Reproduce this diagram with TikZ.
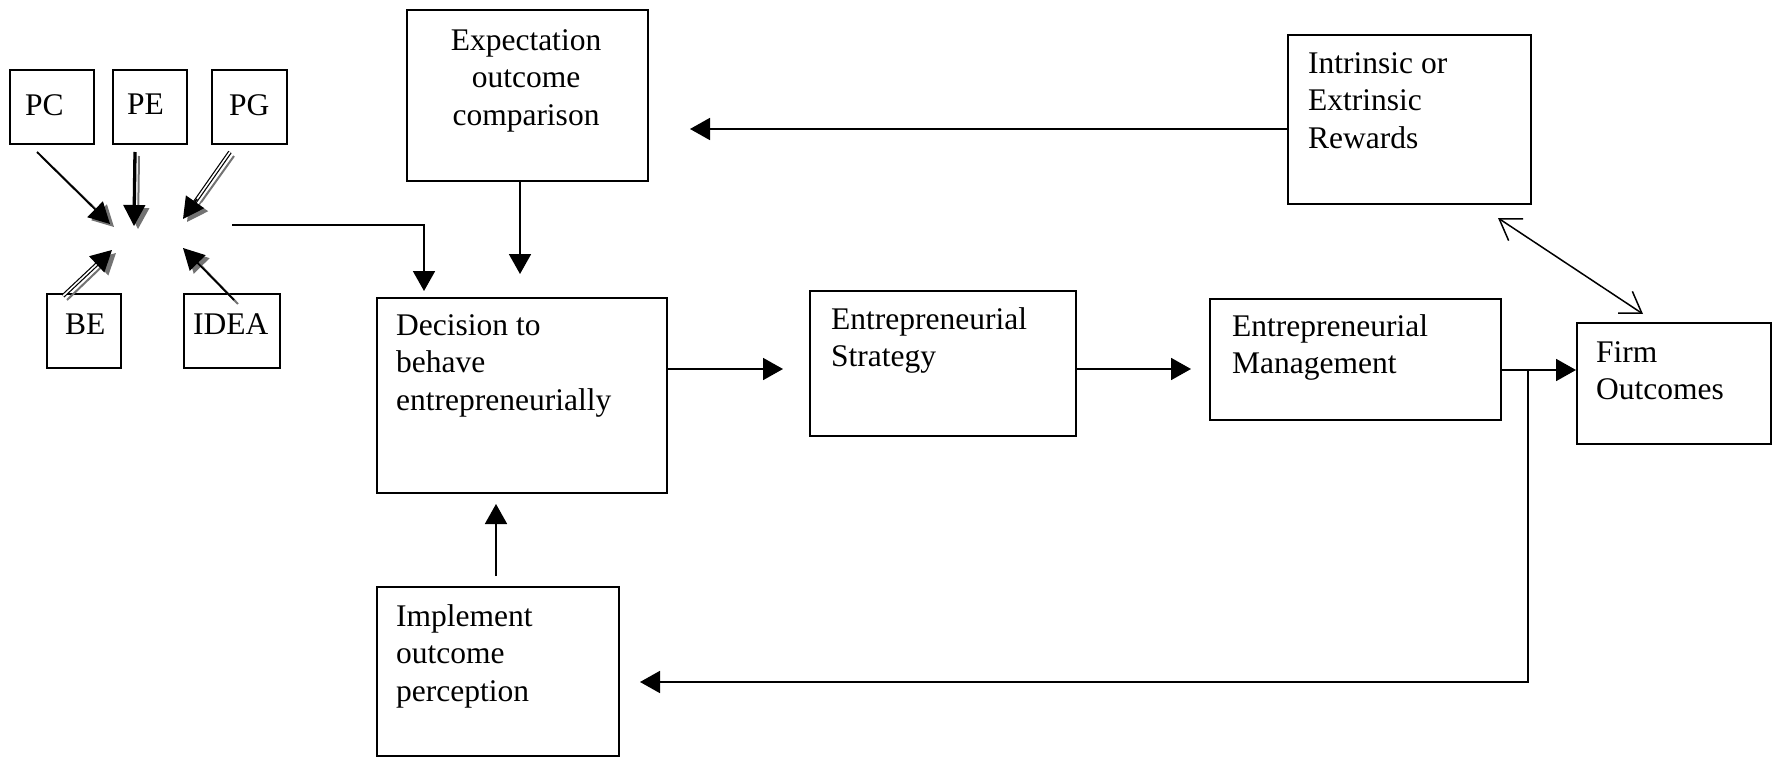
\documentclass[tikz,border=0pt]{standalone}
\usepackage{fontspec}
\setmainfont{Liberation Serif}
\usetikzlibrary{arrows.meta,calc}
\begin{document}
\begin{tikzpicture}[x=1pt,y=-1pt,
  box/.style={draw, line width=1.8pt, inner sep=0pt, anchor=north west},
  lbl/.style={inner sep=0pt, anchor=north west, align=left,
              font=\fontsize{31.5}{37.5}\selectfont},
  link/.style={line width=1.8pt, -{Triangle[length=20pt,width=22pt]}},
  twoway/.style={line width=1.5pt,
                 {Straight Barb[length=20pt,width=26pt,line width=1.5pt]}-{Straight Barb[length=20pt,width=26pt,line width=1.5pt]}},
  cast/.style={draw=black!55, line width=2pt},
  casttip/.style={draw=black!55, fill=black!55, line width=1.5pt,
                  -{Triangle[length=21pt,width=22pt]}},
  thin/.style={line width=1.8pt},
  thick/.style={line width=3.3pt},
  twin/.style={line width=1.2pt, double=white, double distance=1.6pt},
  tip/.style={line width=1.5pt, -{Triangle[length=21pt,width=22pt]}}
]
\useasboundingbox (0,0) rectangle (1775,757);

% ---- input boxes ----
\node[box, minimum width=84pt, minimum height=74pt] (pc)   at (9,69)   {};
\node[box, minimum width=74pt, minimum height=74pt] (pe)   at (112,69) {};
\node[box, minimum width=75pt, minimum height=74pt] (pg)   at (211,69) {};
\node[box, minimum width=74pt, minimum height=74pt] (be)   at (46,293) {};
\node[box, minimum width=96pt, minimum height=74pt] (idea) at (183,293) {};
\node[lbl] (pct)   at (25,94)   {PC};
\node[lbl] (pet)   at (127,94)  {PE};
\node[lbl] (pgt)   at (229,94)  {PG};
\node[lbl] (bet)   at (65,314)  {BE};
\node[lbl] (ideat) at (193,314) {IDEA};

% ---- main boxes ----
\node[box, minimum width=241pt, minimum height=171pt] (exp)   at (406,9)    {};
\node[box, minimum width=243pt, minimum height=169pt] (rew)   at (1287,34)  {};
\node[box, minimum width=290pt, minimum height=195pt] (dec)   at (376,297)  {};
\node[box, minimum width=266pt, minimum height=145pt] (strat) at (809,290)  {};
\node[box, minimum width=291pt, minimum height=121pt] (mgmt)  at (1209,298) {};
\node[box, minimum width=194pt, minimum height=121pt] (firm)  at (1576,322) {};
\node[box, minimum width=242pt, minimum height=169pt] (impl)  at (376,586)  {};

\node[lbl, anchor=north, align=center] (expt) at (526,29) {Expectation\\outcome\\comparison};
\node[lbl] (rewt)   at (1308,52)  {Intrinsic or\\Extrinsic\\Rewards};
\node[lbl] (dect)   at (396,314)  {Decision to\\behave\\entrepreneurially};
\node[lbl] (stratt) at (831,307)  {Entrepreneurial\\Strategy};
\node[lbl] (mgmtt)  at (1232,314) {Entrepreneurial\\Management};
\node[lbl] (firmt)  at (1596,341) {Firm\\Outcomes};
\node[lbl] (implt)  at (396,604)  {Implement\\outcome\\perception};

% ---- converging arrows with drop shadows ----
\coordinate (pcA) at (37,152);   \coordinate (pcB) at (110,224);
\coordinate (peA) at (135,152);  \coordinate (peB) at (134,226);
\coordinate (pgA) at (230,152);  \coordinate (pgB) at (183,219);
\coordinate (beA) at (63,296);   \coordinate (beB) at (112,250);
\coordinate (idA) at (234,300);  \coordinate (idB) at (183,248);

\foreach \a/\b in {pcA/pcB, peA/peB, pgA/pgB, beA/beB, idA/idB}{
  \draw[cast] ([shift={(4,4)}]\a) -- ($([shift={(4,4)}]\a)!0.7!([shift={(4,3)}]\b)$);
  \draw[casttip] ($([shift={(4,3)}]\a)!0.7!([shift={(4,3)}]\b)$) -- ([shift={(4,3)}]\b);
}
\draw[thin]  (pcA) -- ($(pcA)!0.75!(pcB)$);
\draw[thick] (peA) -- ($(peA)!0.75!(peB)$);
\draw[twin]  (pgA) -- ($(pgA)!0.75!(pgB)$);
\draw[twin]  (beA) -- ($(beA)!0.72!(beB)$);
\draw[thin]  (idA) -- ($(idA)!0.72!(idB)$);
\foreach \a/\b in {pcA/pcB, peA/peB, pgA/pgB, beA/beB, idA/idB}{
  \draw[tip] ($(\a)!0.7!(\b)$) -- (\b);
}

% ---- connectors ----
\coordinate (hub)    at (232,225);
\coordinate (hubtip) at (424,291);
\draw[link] (hub) -| (hubtip);

\coordinate (exptip) at (520,274);
\draw[link] (exp.south -| exptip) -- (exptip);

\coordinate (rewtip) at (690,129);
\draw[link] (rew.west |- rewtip) -- (rewtip);

\coordinate (dstip) at (783,369);
\draw[link] (dec.east |- dstip) -- (dstip);

\coordinate (smtip) at (1191,369);
\draw[link] (strat.east |- smtip) -- (smtip);

\coordinate (split) at (1528,370);
\draw[link] (mgmt.east |- split) -- (firm.west |- split);

\coordinate (backtip) at (640,682);
\draw[link] (split) |- (backtip);

\coordinate (implA) at (496,576);
\coordinate (impltip) at (496,504);
\draw[link] (implA) -- (impltip);

\coordinate (rwA) at (1498,218);
\coordinate (rwB) at (1643,314);
\draw[twoway] (rwA) -- (rwB);
\end{tikzpicture}
\end{document}
